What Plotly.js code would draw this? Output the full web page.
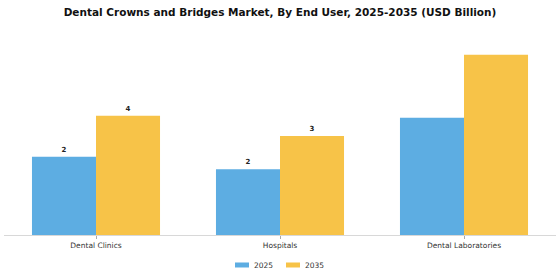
<!DOCTYPE html>
<html>
<head>
<meta charset="utf-8">
<script src="https://cdn.plot.ly/plotly-3.0.1.min.js"></script>
<style>html,body{margin:0;padding:0;background:#fff;}#chart{width:560px;height:280px;}</style>
</head>
<body>
<div id="chart"></div>
<script>
const categories = ["Dental Clinics", "Hospitals", "Dental Laboratories"];
const values2025 = [2.37, 1.99, 3.55];
const values2035 = [3.61, 3.0, 5.46];
const showLabel = [true, true, false];
const seriesNames = ["2025", "2035"];

const colors = ["#5dade2", "#f7c348"];
function labels(vals) {
  return vals.map((v, i) => showLabel[i] ? String(Math.round(v)) : "");
}
const traces = [values2025, values2035].map((vals, k) => ({
  type: "bar",
  name: seriesNames[k],
  x: categories,
  y: vals,
  text: labels(vals),
  textposition: "outside",
  cliponaxis: false,
  textfont: {family: "DejaVu Sans", size: 7, color: "#222", weight: "bold"},
  marker: {color: colors[k]},
  hoverinfo: "skip"
}));

const layout = {
  width: 560, height: 280,
  margin: {l: 4, r: 4, t: 30, b: 45, autoexpand: false},
  paper_bgcolor: "#fff", plot_bgcolor: "#fff",
  title: {text: "<b>Dental Crowns and Bridges Market, By End User, 2025-2035 (USD Billion)</b>",
    x: 0.5, xanchor: "center", y: 0.955, yanchor: "middle",
    font: {family: "DejaVu Sans", size: 10.5, color: "#111"}},
  barmode: "group", bargap: 0.304, bargroupgap: 0,
  xaxis: {showline: true, linecolor: "#d8d8d8", linewidth: 1, ticks: "outside", ticklen: 3, tickcolor: "#aaa",
    tickfont: {family: "DejaVu Sans", size: 7.5, color: "#333"}, showgrid: false, fixedrange: true, automargin: false},
  yaxis: {range: [0, 6.212], visible: false, showgrid: false, zeroline: false},
  showlegend: true,
  legend: {orientation: "h", x: 0.4728, xanchor: "center", yref: "container", y: 0.0536, yanchor: "middle",
    font: {family: "DejaVu Sans", size: 7.5, color: "#333"}, itemwidth: 30, entrywidth: 6}
};
Plotly.newPlot("chart", traces, layout, {displayModeBar: false, staticPlot: true}).then(gd => {
  gd.querySelectorAll(".legendpoints path").forEach(p => p.setAttribute("d", "M15,2.5H1V-2.5H15Z"));
  gd.querySelectorAll(".legend [clip-path]").forEach(el => el.removeAttribute("clip-path"));
});
</script>
</body>
</html>
